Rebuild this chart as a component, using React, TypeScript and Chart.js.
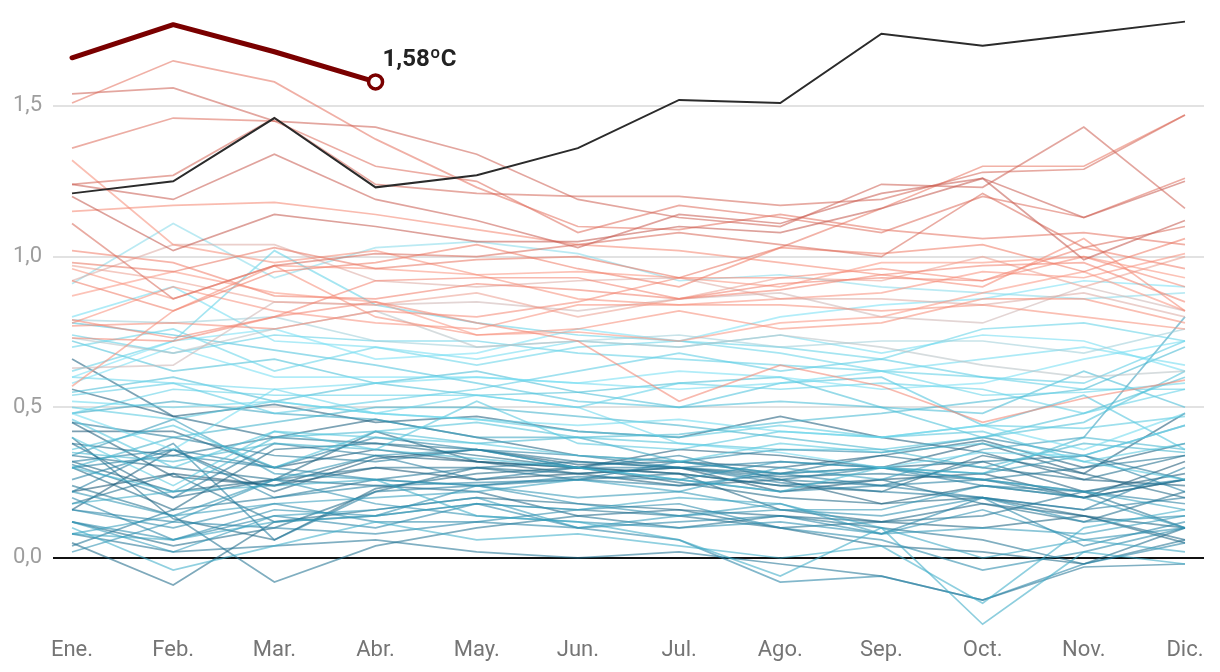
import React, { useEffect, useRef } from "react";
import { Chart, registerables } from "chart.js";

Chart.register(...registerables);

const months = ["Ene.", "Feb.", "Mar.", "Abr.", "May.", "Jun.", "Jul.", "Ago.", "Sep.", "Oct.", "Nov.", "Dic."];
const yTickValues = [0, 0.5, 1.0, 1.5];
const firstYear = 1940;

// Anomalías mensuales 1940–2022 (una fila por año)
const pastYears: number[][] = [
  [0.22, 0.28, 0.24, 0.30, 0.26, 0.28, 0.30, 0.22, 0.26, 0.28, 0.20, 0.32],
  [0.42, 0.42, 0.30, 0.36, 0.32, 0.30, 0.36, 0.34, 0.30, 0.38, 0.28, 0.48],
  [0.45, 0.27, 0.24, 0.34, 0.32, 0.28, 0.24, 0.26, 0.18, 0.24, 0.20, 0.26],
  [0.16, 0.36, 0.22, 0.33, 0.36, 0.31, 0.32, 0.30, 0.34, 0.39, 0.30, 0.38],
  [0.56, 0.47, 0.51, 0.45, 0.47, 0.42, 0.40, 0.47, 0.40, 0.35, 0.26, 0.24],
  [0.66, 0.47, 0.40, 0.46, 0.40, 0.34, 0.32, 0.28, 0.30, 0.32, 0.22, 0.28],
  [0.32, 0.22, 0.26, 0.42, 0.32, 0.30, 0.28, 0.16, 0.12, 0.10, 0.14, 0.05],
  [0.30, 0.16, 0.36, 0.38, 0.34, 0.30, 0.28, 0.24, 0.22, 0.34, 0.28, 0.20],
  [0.40, 0.13, 0.06, 0.23, 0.28, 0.30, 0.25, 0.20, 0.18, 0.20, 0.14, 0.10],
  [0.38, 0.20, 0.26, 0.24, 0.22, 0.14, 0.16, 0.14, 0.12, 0.18, 0.14, 0.06],
  [0.05, -0.09, 0.12, 0.16, 0.20, 0.18, 0.16, 0.10, 0.04, 0.02, -0.02, 0.10],
  [0.12, 0.04, 0.10, 0.22, 0.30, 0.28, 0.30, 0.28, 0.34, 0.30, 0.26, 0.34],
  [0.34, 0.30, 0.26, 0.30, 0.30, 0.26, 0.28, 0.24, 0.26, 0.18, 0.12, 0.22],
  [0.38, 0.34, 0.40, 0.38, 0.36, 0.32, 0.30, 0.27, 0.28, 0.26, 0.20, 0.26],
  [0.18, 0.28, 0.12, 0.14, 0.18, 0.16, 0.14, 0.10, 0.12, 0.14, 0.22, 0.10],
  [0.24, 0.14, -0.08, 0.04, 0.10, 0.14, 0.10, 0.14, 0.10, 0.06, -0.02, 0.06],
  [0.08, 0.02, 0.04, 0.06, 0.02, 0.00, 0.02, -0.02, -0.06, -0.14, -0.03, -0.02],
  [0.04, 0.16, 0.20, 0.26, 0.30, 0.32, 0.30, 0.26, 0.30, 0.26, 0.30, 0.34],
  [0.45, 0.40, 0.34, 0.32, 0.36, 0.30, 0.34, 0.26, 0.24, 0.32, 0.34, 0.26],
  [0.31, 0.20, 0.38, 0.34, 0.26, 0.30, 0.30, 0.25, 0.22, 0.20, 0.16, 0.20],
  [0.22, 0.38, 0.06, 0.22, 0.24, 0.26, 0.24, 0.28, 0.24, 0.20, 0.16, 0.30],
  [0.32, 0.36, 0.30, 0.40, 0.36, 0.34, 0.30, 0.32, 0.30, 0.24, 0.22, 0.18],
  [0.30, 0.34, 0.30, 0.26, 0.24, 0.27, 0.26, 0.22, 0.24, 0.26, 0.22, 0.26],
  [0.26, 0.36, 0.20, 0.24, 0.25, 0.26, 0.32, 0.36, 0.35, 0.40, 0.34, 0.22],
  [0.16, 0.12, 0.10, 0.08, 0.12, 0.10, 0.06, -0.08, -0.06, -0.14, -0.02, 0.05],
  [0.20, 0.06, 0.14, 0.10, 0.18, 0.10, 0.12, 0.14, 0.08, 0.20, 0.04, 0.12],
  [0.16, 0.10, 0.18, 0.12, 0.12, 0.16, 0.18, 0.10, 0.06, -0.04, 0.02, 0.10],
  [0.12, 0.06, 0.16, 0.14, 0.24, 0.18, 0.14, 0.16, 0.14, 0.20, 0.12, 0.14],
  [0.02, 0.12, 0.26, 0.18, 0.14, 0.12, 0.10, 0.12, 0.08, 0.16, 0.06, 0.10],
  [0.22, 0.14, 0.26, 0.34, 0.36, 0.30, 0.26, 0.32, 0.30, 0.28, 0.34, 0.44],
  [0.34, 0.46, 0.28, 0.26, 0.24, 0.20, 0.22, 0.16, 0.16, 0.24, 0.20, 0.10],
  [0.12, 0.02, 0.14, 0.16, 0.20, 0.10, 0.14, 0.18, 0.08, 0.10, 0.08, 0.14],
  [0.08, 0.14, 0.18, 0.20, 0.22, 0.26, 0.22, 0.30, 0.26, 0.36, 0.40, 0.80],
  [0.48, 0.52, 0.48, 0.46, 0.40, 0.40, 0.32, 0.28, 0.30, 0.26, 0.22, 0.16],
  [0.08, 0.06, 0.12, 0.14, 0.18, 0.16, 0.20, 0.18, 0.10, 0.00, 0.06, 0.02],
  [0.18, 0.22, 0.24, 0.26, 0.14, 0.12, 0.06, -0.06, 0.10, -0.22, 0.02, -0.02],
  [0.10, -0.04, 0.04, 0.12, 0.06, 0.08, 0.04, 0.00, 0.04, -0.15, 0.10, 0.16],
  [0.30, 0.40, 0.45, 0.50, 0.50, 0.47, 0.44, 0.40, 0.36, 0.30, 0.38, 0.35],
  [0.35, 0.32, 0.38, 0.36, 0.33, 0.30, 0.26, 0.22, 0.30, 0.28, 0.40, 0.36],
  [0.30, 0.22, 0.40, 0.42, 0.38, 0.40, 0.41, 0.45, 0.48, 0.52, 0.56, 0.70],
  [0.55, 0.60, 0.52, 0.58, 0.62, 0.55, 0.50, 0.52, 0.50, 0.48, 0.62, 0.50],
  [0.72, 0.62, 0.66, 0.58, 0.54, 0.55, 0.58, 0.60, 0.50, 0.40, 0.48, 0.60],
  [0.36, 0.44, 0.30, 0.42, 0.45, 0.40, 0.38, 0.36, 0.36, 0.40, 0.45, 0.62],
  [0.78, 0.74, 0.69, 0.64, 0.58, 0.52, 0.50, 0.58, 0.60, 0.44, 0.54, 0.36],
  [0.46, 0.30, 0.42, 0.36, 0.52, 0.38, 0.36, 0.42, 0.40, 0.42, 0.32, 0.26],
  [0.40, 0.24, 0.42, 0.40, 0.38, 0.34, 0.32, 0.38, 0.35, 0.38, 0.32, 0.38],
  [0.50, 0.46, 0.52, 0.48, 0.46, 0.42, 0.40, 0.44, 0.40, 0.44, 0.43, 0.47],
  [0.54, 0.58, 0.48, 0.52, 0.56, 0.62, 0.68, 0.62, 0.66, 0.60, 0.58, 0.72],
  [0.74, 0.68, 0.74, 0.72, 0.72, 0.68, 0.66, 0.64, 0.62, 0.60, 0.56, 0.56],
  [0.48, 0.56, 0.54, 0.54, 0.54, 0.50, 0.58, 0.56, 0.58, 0.56, 0.48, 0.56],
  [0.62, 0.72, 1.02, 0.84, 0.78, 0.74, 0.72, 0.70, 0.66, 0.76, 0.78, 0.72],
  [0.70, 0.76, 0.62, 0.70, 0.64, 0.70, 0.72, 0.68, 0.62, 0.54, 0.55, 0.58],
  [0.60, 0.58, 0.56, 0.48, 0.54, 0.50, 0.38, 0.35, 0.30, 0.35, 0.34, 0.44],
  [0.52, 0.50, 0.52, 0.48, 0.46, 0.44, 0.46, 0.42, 0.40, 0.44, 0.36, 0.48],
  [0.48, 0.36, 0.56, 0.58, 0.60, 0.58, 0.56, 0.58, 0.62, 0.66, 0.70, 0.64],
  [0.80, 0.90, 0.72, 0.70, 0.66, 0.72, 0.70, 0.74, 0.68, 0.74, 0.72, 0.62],
  [0.58, 0.70, 0.60, 0.60, 0.60, 0.58, 0.62, 0.60, 0.56, 0.58, 0.66, 0.72],
  [0.60, 0.72, 0.76, 0.66, 0.68, 0.76, 0.72, 0.80, 0.84, 0.86, 0.92, 0.90],
  [0.91, 1.11, 0.93, 1.03, 1.05, 1.01, 0.92, 0.94, 0.90, 0.88, 0.86, 0.88],
  [0.79, 0.78, 0.80, 0.72, 0.70, 0.72, 0.74, 0.70, 0.72, 0.72, 0.68, 0.76],
  [0.73, 0.68, 0.76, 0.82, 0.70, 0.72, 0.70, 0.74, 0.70, 0.64, 0.60, 0.62],
  [0.63, 0.64, 0.85, 0.84, 0.85, 0.82, 0.86, 0.88, 0.80, 0.78, 0.90, 0.82],
  [0.92, 1.04, 1.04, 0.92, 0.90, 0.92, 0.93, 0.86, 0.86, 0.84, 0.88, 0.80],
  [0.97, 0.92, 0.85, 0.84, 0.88, 0.80, 0.86, 0.93, 0.92, 1.00, 0.90, 1.00],
  [0.87, 0.95, 0.88, 0.85, 0.74, 0.75, 0.72, 0.78, 0.80, 0.88, 0.95, 0.82],
  [0.96, 0.86, 0.97, 0.96, 0.94, 0.95, 0.93, 0.90, 0.98, 0.98, 1.00, 0.93],
  [0.78, 0.90, 0.82, 0.78, 0.76, 0.84, 0.84, 0.86, 0.88, 0.95, 0.93, 1.01],
  [1.32, 1.04, 0.98, 1.02, 0.94, 0.86, 0.84, 0.84, 0.82, 0.84, 0.80, 0.76],
  [0.57, 0.82, 0.97, 0.80, 0.74, 0.76, 0.82, 0.76, 0.78, 0.86, 0.86, 0.78],
  [0.77, 0.78, 0.76, 0.82, 0.80, 0.85, 0.93, 0.93, 0.96, 0.92, 1.00, 0.90],
  [1.15, 1.17, 1.18, 1.14, 1.09, 1.04, 1.02, 0.98, 0.94, 0.90, 1.06, 0.82],
  [0.79, 0.73, 0.80, 0.85, 0.78, 0.72, 0.52, 0.64, 0.57, 0.45, 0.53, 0.59],
  [0.73, 0.72, 0.80, 0.92, 0.93, 0.93, 0.86, 0.89, 0.94, 0.97, 0.98, 0.85],
  [1.02, 0.98, 0.87, 0.86, 0.91, 0.89, 0.86, 0.91, 0.93, 0.92, 1.03, 0.96],
  [0.92, 0.82, 0.95, 0.98, 1.04, 0.96, 0.90, 1.03, 1.01, 1.04, 0.95, 1.06],
  [0.98, 0.95, 1.03, 0.96, 0.99, 1.00, 0.93, 1.03, 1.16, 1.30, 1.30, 1.47],
  [1.51, 1.65, 1.58, 1.39, 1.23, 1.10, 1.09, 1.14, 1.09, 1.06, 1.08, 1.04],
  [1.36, 1.46, 1.45, 1.30, 1.25, 1.08, 1.17, 1.13, 1.08, 1.20, 1.13, 1.26],
  [1.11, 0.86, 0.97, 1.01, 1.00, 1.04, 1.08, 1.04, 1.00, 1.21, 1.03, 1.10],
  [1.24, 1.27, 1.46, 1.24, 1.21, 1.20, 1.20, 1.17, 1.19, 1.28, 1.29, 1.47],
  [1.54, 1.56, 1.45, 1.43, 1.34, 1.19, 1.13, 1.10, 1.24, 1.23, 1.43, 1.16],
  [1.24, 1.19, 1.34, 1.19, 1.12, 1.03, 1.14, 1.11, 1.21, 1.26, 1.13, 1.25],
  [1.20, 1.02, 1.14, 1.10, 1.05, 1.05, 1.10, 1.08, 1.16, 1.26, 0.99, 1.12],
];

const values2023 = [1.21, 1.25, 1.46, 1.23, 1.27, 1.36, 1.52, 1.51, 1.74, 1.70, 1.74, 1.78];
const values2024 = [1.66, 1.77, 1.68, 1.58];

// color gradient (style only)
const stops: [number, number, number, number][] = [
  [0.0, 25, 85, 115],
  [0.3, 35, 130, 165],
  [0.5, 70, 190, 215],
  [0.7, 120, 225, 245],
  [0.74, 200, 185, 185],
  [0.78, 250, 150, 130],
  [0.9, 240, 125, 105],
  [1.0, 195, 90, 80],
];
function colorFor(t: number): string {
  for (let i = 0; i < stops.length - 1; i++) {
    const a = stops[i], b = stops[i + 1];
    if (t >= a[0] && t <= b[0]) {
      const f = (t - a[0]) / (b[0] - a[0] || 1);
      const r = Math.round(a[1] + (b[1] - a[1]) * f);
      const g = Math.round(a[2] + (b[2] - a[2]) * f);
      const bl = Math.round(a[3] + (b[3] - a[3]) * f);
      return `rgba(${r},${g},${bl},0.57)`;
    }
  }
  const l = stops[stops.length - 1];
  return `rgba(${l[1]},${l[2]},${l[3]},0.57)`;
}

const toPoints = (arr: number[]) => arr.map((v, i) => ({ x: i, y: v }));

const labelPlugin = {
  id: "lastLabel",
  afterDatasetsDraw(chart: any) {
    const meta = chart.getDatasetMeta(0);
    const pts = meta.data;
    if (!pts || !pts.length) return;
    const p = pts[pts.length - 1];
    const ctx = chart.ctx;
    ctx.save();
    ctx.font = "bold 24px Roboto";
    ctx.fillStyle = "#222";
    ctx.textAlign = "left";
    ctx.textBaseline = "middle";
    const v = values2024[values2024.length - 1];
    ctx.fillText(v.toFixed(2).replace(".", ",") + "ºC", p.x + 7, p.y - 22);
    ctx.restore();
  },
};

export default function App() {
  const ref = useRef<HTMLCanvasElement | null>(null);
  useEffect(() => {
    if (!ref.current) return;
    const n = pastYears.length;
    const pastSets = pastYears.map((vals, i) => ({
      label: String(firstYear + i),
      data: toPoints(vals),
      borderColor: colorFor(i / (n - 1)),
      borderWidth: 1.7,
      pointRadius: 0,
      tension: 0,
      order: 2 + (n - i),
    }));
    const datasets: any[] = [
      {
        label: "2024",
        data: toPoints(values2024),
        borderColor: "#7a0000",
        borderWidth: 5,
        borderCapStyle: "round",
        borderJoinStyle: "round",
        pointRadius: values2024.map((_, i) => (i === values2024.length - 1 ? 7 : 0)),
        pointBackgroundColor: "#ffffff",
        pointBorderColor: "#7a0000",
        pointBorderWidth: 3.5,
        tension: 0,
        order: 0,
      },
      {
        label: "2023",
        data: toPoints(values2023),
        borderColor: "#2b2b2b",
        borderWidth: 2,
        pointRadius: 0,
        tension: 0,
        order: 1,
      },
      ...pastSets.reverse(),
    ];
    const chart = new Chart(ref.current, {
      type: "line",
      data: { datasets },
      plugins: [labelPlugin],
      options: {
        animation: false,
        responsive: false,
        events: [],
        layout: { padding: { top: 15.6, right: 16, left: 0, bottom: 0 } },
        plugins: { legend: { display: false }, tooltip: { enabled: false } },
        scales: {
          x: {
            type: "linear",
            min: -0.188,
            max: 11.188,
            afterBuildTicks: (s: any) => {
              s.ticks = months.map((_, i) => ({ value: i }));
            },
            afterFit: (s: any) => {
              s.height = 38.7;
              s.paddingLeft = 0;
              s.paddingRight = 0;
            },
            grid: { display: false, drawTicks: false },
            border: { display: false },
            ticks: {
              autoSkip: false,
              maxRotation: 0,
              padding: 4,
              color: "#757575",
              font: { family: "Roboto", size: 22 },
              callback: (v: any) => months[v as number] ?? "",
            },
          },
          y: {
            type: "linear",
            min: -0.25,
            max: 1.8,
            afterBuildTicks: (s: any) => {
              s.ticks = yTickValues.map((v) => ({ value: v }));
            },
            afterFit: (s: any) => {
              s.width = 53;
              s.paddingTop = 0;
              s.paddingBottom = 0;
            },
            grid: {
              drawTicks: false,
              color: (c: any) => (c.tick && c.tick.value === 0 ? "#111111" : "#e2e2e2"),
              lineWidth: 2,
            },
            border: { display: false },
            ticks: {
              padding: 11,
              color: "#9e9e9e",
              font: { family: "Roboto", size: 22 },
              callback: (v: any) => Number(v).toFixed(1).replace(".", ","),
            },
          },
        },
      },
    });
    return () => chart.destroy();
  }, []);
  return (
    <div style={{ position: "fixed", left: 0, top: 0, width: 1220, height: 672, background: "#fff" }}>
      <canvas ref={ref} width={1220} height={672} style={{ width: 1220, height: 672 }} />
    </div>
  );
}
